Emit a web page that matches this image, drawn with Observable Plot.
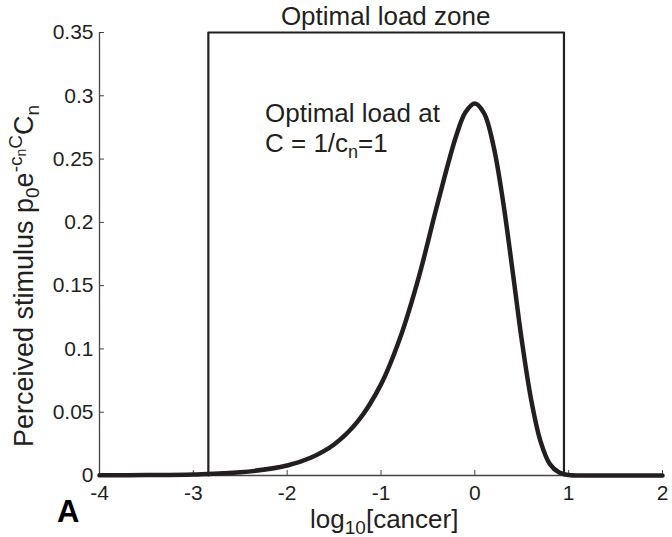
<!DOCTYPE html>
<html>
<head>
<meta charset="utf-8">
<script src="https://cdn.jsdelivr.net/npm/d3@7"></script>
<script src="https://cdn.jsdelivr.net/npm/@observablehq/plot@0.6"></script>
<style>
  html, body { margin: 0; padding: 0; background: #fff; }
  svg { display: block; }
</style>
</head>
<body>
<div id="chart"></div>
<script>
const xTicks = [-4, -3, -2, -1, 0, 1, 2];
const yTicks = [0, 0.05, 0.1, 0.15, 0.2, 0.25, 0.3, 0.35];
const yTickLabels = ["0", "0.05", "0.1", "0.15", "0.2", "0.25", "0.3", "0.35"];

// curve: log10[cancer] vs perceived stimulus
const logCancer = [-4, -3.5, -3, -2.5, -2, -1.75, -1.5, -1.25, -1, -0.8, -0.6, -0.4, -0.2, -0.1, 0, 0.1, 0.2, 0.3, 0.4, 0.5, 0.6, 0.7, 0.8, 0.9, 1.0, 1.2, 1.5, 2];
const stimulus  = [0.0001, 0.0003, 0.0008, 0.0025, 0.0079, 0.014, 0.0245, 0.0425, 0.072, 0.108, 0.156, 0.214, 0.268, 0.287, 0.294, 0.286, 0.26, 0.217, 0.163, 0.107, 0.06, 0.027, 0.009, 0.0023, 0.0004, 0, 0, 0];

// optimal load zone bounds
const zoneX = [-2.84, -2.84, 0.95, 0.95];
const zoneY = [0, 0.35, 0.35, 0];

const curve = logCancer.map((x, i) => ({x, y: stimulus[i]}));
const zone = zoneX.map((x, i) => ({x, y: zoneY[i]}));

const ink = "#231f20";
const font = "'Liberation Sans', Arial, Helvetica, sans-serif";

const chart = Plot.plot({
  width: 672,
  height: 537,
  marginLeft: 99,
  marginRight: 10,
  marginTop: 32,
  marginBottom: 62,
  style: {fontFamily: font, color: ink, background: "#fff"},
  x: {domain: [-4, 2]},
  y: {domain: [0, 0.35]},
  marks: [
    Plot.ruleX([-4], {y1: 0, y2: 0.35, stroke: "#444", strokeWidth: 1.3}),
    Plot.ruleY([0], {x1: -4, x2: 2, stroke: "#444", strokeWidth: 1.3}),
    Plot.axisX({ticks: xTicks, tickSize: -5, tickFormat: () => "", label: null, stroke: "#444"}),
    Plot.axisX({ticks: xTicks, tickSize: 0, tickPadding: 10, tickFormat: d => String(d), label: null, fontSize: 21, fill: ink}),
    Plot.axisY({ticks: yTicks, tickSize: -5, tickFormat: () => "", label: null, stroke: "#444"}),
    Plot.axisY({ticks: yTicks, tickSize: 0, tickPadding: 6, tickFormat: (d, i) => yTickLabels[i], label: null, fontSize: 21, fill: ink}),
    Plot.line(zone, {x: "x", y: "y", stroke: ink, strokeWidth: 2.2}),
    Plot.line(curve, {x: "x", y: "y", stroke: ink, strokeWidth: 4.5, curve: "catmull-rom"})
  ]
});

document.getElementById("chart").appendChild(chart);

const sx = chart.scale("x"), sy = chart.scale("y");
const svg = d3.select(chart);

// title of zone
svg.append("text")
  .attr("x", sx.apply((zoneX[0] + zoneX[2]) / 2))
  .attr("y", 25)
  .attr("text-anchor", "middle")
  .style("font-family", font).style("font-size", "26px").attr("fill", ink)
  .text("Optimal load zone");

// annotation
const ann = svg.append("g").attr("text-anchor", "start").style("font-family", font).style("font-size", "26px").attr("fill", ink);
ann.append("text").attr("x", 265).attr("y", 122).text("Optimal load at");
const a2 = ann.append("text").attr("x", 265).attr("y", 152);
a2.append("tspan").text("C = 1/c");
a2.append("tspan").attr("dy", 6).style("font-size", "18px").text("n");
a2.append("tspan").attr("dy", -6).text("=1");

// y label
const yl = svg.append("text")
  .attr("transform", "translate(33,276) rotate(-90)")
  .attr("text-anchor", "middle")
  .style("font-family", font).style("font-size", "27px").attr("fill", ink);
yl.append("tspan").text("Perceived stimulus p");
yl.append("tspan").attr("dy", 6).style("font-size", "19px").text("0");
yl.append("tspan").attr("dy", -6).text("e");
yl.append("tspan").attr("dy", -11).style("font-size", "19px").text("-c");
yl.append("tspan").attr("dy", 4).style("font-size", "14px").text("n");
yl.append("tspan").attr("dy", -4).style("font-size", "19px").text("C");
yl.append("tspan").attr("dy", 11).text("C");
yl.append("tspan").attr("dy", 6).style("font-size", "19px").text("n");

// x label
const xl = svg.append("text")
  .attr("x", sx.apply(-0.96))
  .attr("y", 528)
  .attr("text-anchor", "middle")
  .style("font-family", font).style("font-size", "26px").attr("fill", ink);
xl.append("tspan").text("log");
xl.append("tspan").attr("dy", 6).style("font-size", "19px").text("10");
xl.append("tspan").attr("dy", -6).text("[cancer]");

// panel letter
svg.append("text")
  .attr("x", 57).attr("y", 522)
  .attr("text-anchor", "start")
  .style("font-family", font).style("font-size", "31px").style("font-weight", "bold").attr("fill", "#000")
  .text("A");
</script>
</body>
</html>
